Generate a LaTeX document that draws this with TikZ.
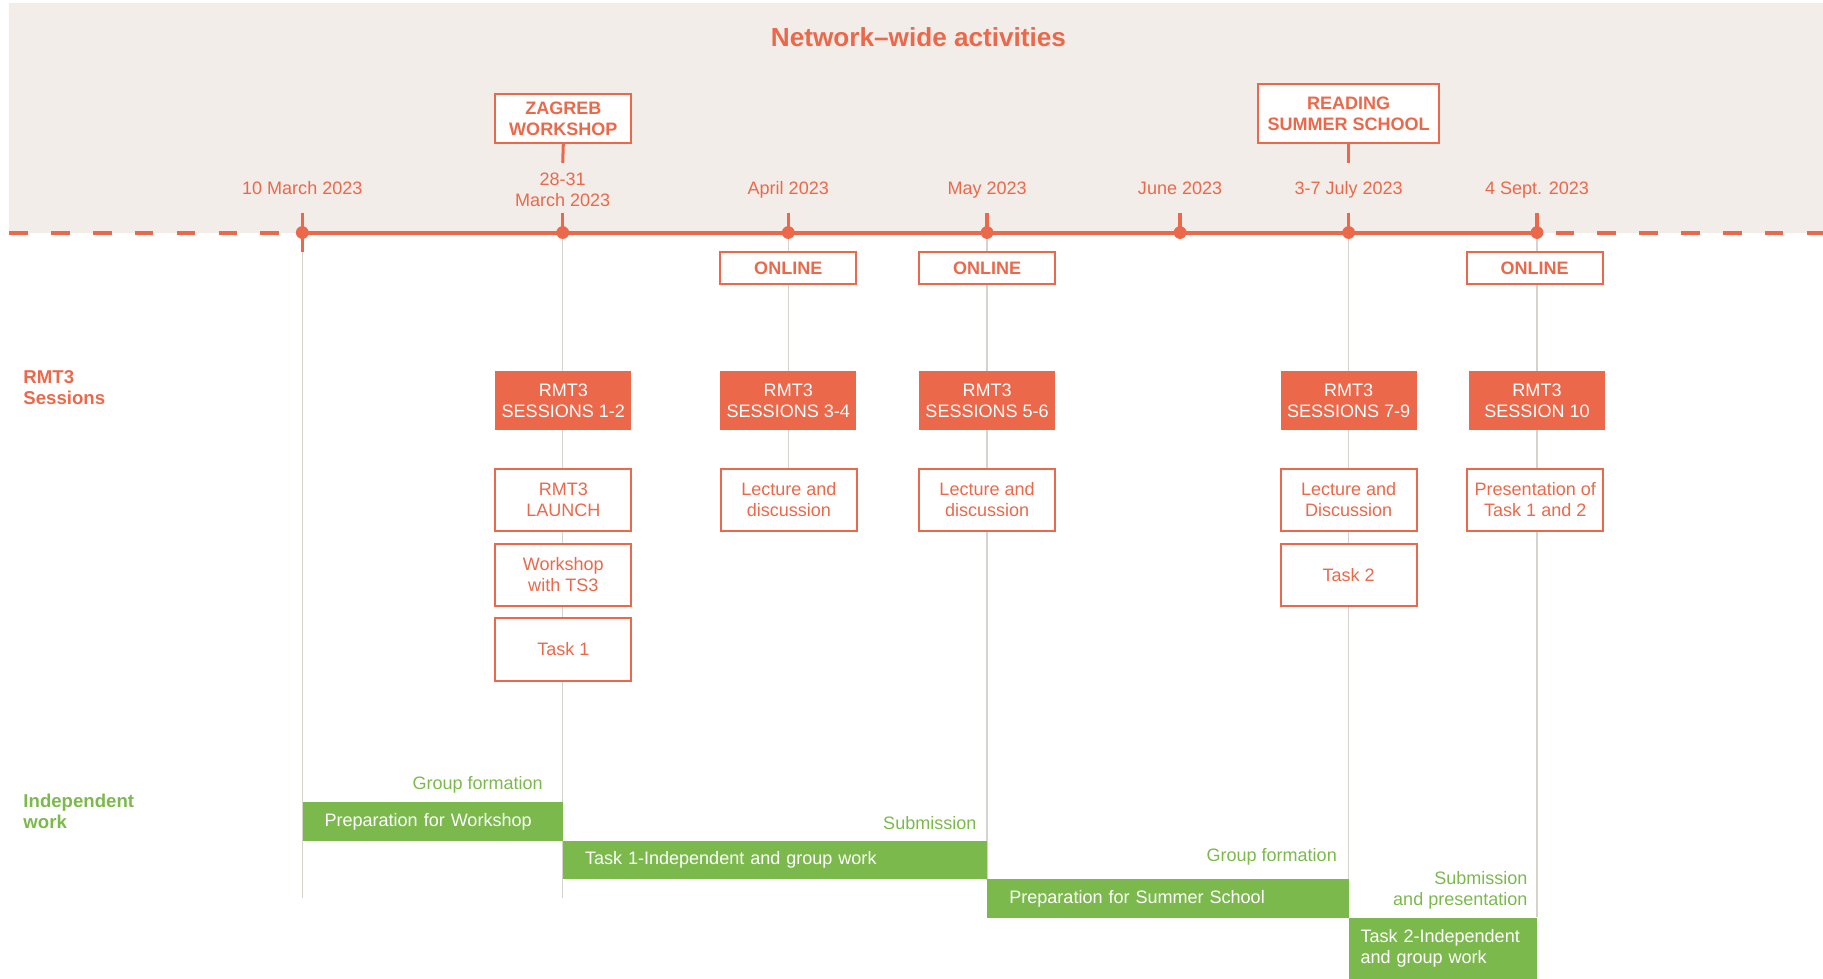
\documentclass[tikz,border=0pt]{standalone}
\usepackage{fontspec}
\setmainfont{Liberation Sans}
\usepackage{tikz}
\usepackage{color}

\definecolor{rmtorange}{RGB}{236,104,74}
\definecolor{rmtgreen}{RGB}{124,185,77}
\definecolor{rmtbeige}{RGB}{242,237,232}
\definecolor{rmtgray}{RGB}{214,210,206}

\tikzset{
  txt/.style={font=\fontsize{15.5}{18}\selectfont},
  datelbl/.style={txt, text=rmtorange, align=center, inner sep=0pt},
  onedate/.style={datelbl, text height=11.5pt, text depth=3.5pt},
  dot/.style={circle, fill=rmtorange, inner sep=0pt, minimum size=11pt},
  tick/.style={rmtorange, line width=3pt},
  gridline/.style={rmtgray, line width=1.2pt},
  eventbox/.style={draw=rmtorange, line width=1.7pt, fill=white, text=rmtorange,
    font=\fontsize{15.5}{18}\selectfont\bfseries, align=center, inner sep=0pt,
    minimum width=117pt, minimum height=42pt},
  sessbox/.style={fill=rmtorange, text=white, txt, align=center, inner sep=0pt,
    minimum width=117pt, minimum height=51pt},
  actbox/.style={draw=rmtorange, line width=1.7pt, fill=white, text=rmtorange, txt,
    align=center, inner sep=0pt, minimum width=117pt, minimum height=54pt},
  workbar/.style={fill=rmtgreen, text=white, txt, align=left, inner ysep=0pt,
    inner xsep=19pt, minimum height=33pt, anchor=north west},
  grplbl/.style={txt, text=rmtgreen, align=right, anchor=east, inner sep=0pt},
  rowlbl/.style={font=\fontsize{16}{18}\selectfont\bfseries, align=left, anchor=west, inner sep=0pt}
}

\begin{document}
\begin{tikzpicture}[x=1pt,y=-1pt]
\useasboundingbox (0,0) rectangle (1568,842);
%% background of network-wide part
\fill[rmtbeige] (8,3) rectangle (1568,200);
\node[text=rmtorange, font=\fontsize{22.5}{26}\selectfont\bfseries] (title) at (790,32) {Network--wide activities};

%% timeline
\draw[rmtorange, line width=3.4pt, dash pattern=on 16pt off 20pt] (8,200) -- (250,200);
\draw[rmtorange, line width=3.4pt, dash pattern=on 16pt off 20pt] (1338,200) -- (1568,200);
\draw[rmtorange, line width=3.4pt] (260,200) -- (1322,200);
\foreach \x/\n in {260/mar,484/ws,678/apr,849/may,1015/jun,1160/jul,1322/sep}
  \node[dot] (\n) at (\x,200) {};

%% grey lines (behind boxes)
\draw[gridline] (260,217) -- (260,772);
\draw[gridline] (ws) -- (484,772);
\draw[gridline] (apr) -- (678,410);
\draw[gridline] (may) -- (849,757);
\draw[gridline] (jul) -- (1160,789);
\draw[gridline] (sep) -- (1322,789);

%% ticks
\draw[tick] (260,183) -- (260,217);
\foreach \n in {ws,apr,may,jun,jul,sep}
  \draw[tick] (\n.center) ++(0,-17) -- (\n.center);

%% dates
\node[onedate] (lmar) at (260,163) {10 March 2023};
\node[datelbl] (lws) at (484,163) {28-31\\March 2023};
\node[onedate] (lapr) at (678,163) {April 2023};
\node[onedate] (lmay) at (849,163) {May 2023};
\node[onedate] (ljun) at (1015,163) {June 2023};
\node[onedate] (ljul) at (1160,163) {3-7 July 2023};
\node[onedate] (lsep) at (1322,163) {4 Sept. 2023};

%% events
\node[eventbox] (zagreb) at (484.5,102) {ZAGREB\\WORKSHOP};
\node[eventbox, minimum width=156pt, minimum height=51pt] (reading) at (1160,97.5) {READING\\SUMMER SCHOOL};
\draw[tick, line width=2.6pt] (zagreb.south) -- (484,140);
\draw[tick, line width=2.6pt] (reading.south) -- (1160,140);

\node[eventbox, minimum height=27pt] (onapr) at (678,230.5) {ONLINE};
\node[eventbox, minimum height=27pt] (onmay) at (849,230.5) {ONLINE};
\node[eventbox, minimum height=27pt] (onsep) at (1320,230.5) {ONLINE};

%% sessions
\node[rowlbl, text=rmtorange] (rowsess) at (20,333) {RMT3\\Sessions};
\node[sessbox] (s12) at (484.5,344.5) {RMT3\\SESSIONS 1-2};
\node[sessbox] (s34) at (678,344.5) {RMT3\\SESSIONS 3-4};
\node[sessbox] (s56) at (849,344.5) {RMT3\\SESSIONS 5-6};
\node[sessbox] (s79) at (1160,344.5) {RMT3\\SESSIONS 7-9};
\node[sessbox] (s10) at (1322,344.5) {RMT3\\SESSION 10};

\node[actbox] (launch) at (484.5,430) {RMT3\\LAUNCH};
\node[actbox] (wsts) at (484.5,494.5) {Workshop\\with TS3};
\node[actbox] (taskA) at (484.5,558.5) {Task 1};
\node[actbox] (lecA) at (678.5,430) {Lecture and\\discussion};
\node[actbox] (lecB) at (849,430) {Lecture and\\discussion};
\node[actbox] (lecC) at (1160,430) {Lecture and\\Discussion};
\node[actbox] (taskB) at (1160,494.5) {Task 2};
\node[actbox] (pres) at (1320.5,430) {Presentation of\\Task 1 and 2};

%% independent work
\node[rowlbl, text=rmtgreen] (rowind) at (20,698) {Independent\\work};
\node[workbar, text width=186pt] (barws) at (260,690) {Preparation for Workshop};
\node[workbar, text width=327pt] (bartask1) at (484,723) {Task 1-Independent and group work};
\node[workbar, text width=273pt] (barss) at (849,756) {Preparation for Summer School};
\node[workbar, inner xsep=10pt, text width=142pt, minimum height=53pt] (bartask2) at (1160,789) {Task 2-Independent\\and group work};

\node[grplbl] (grp1) at (467,675) {Group formation};
\node[grplbl] (sub1) at (840,708) {Submission};
\node[grplbl] (grp2) at (1150,737) {Group formation};
\node[grplbl] (sub2) at (1314,766) {Submission\\and presentation};

\end{tikzpicture}
\end{document}
